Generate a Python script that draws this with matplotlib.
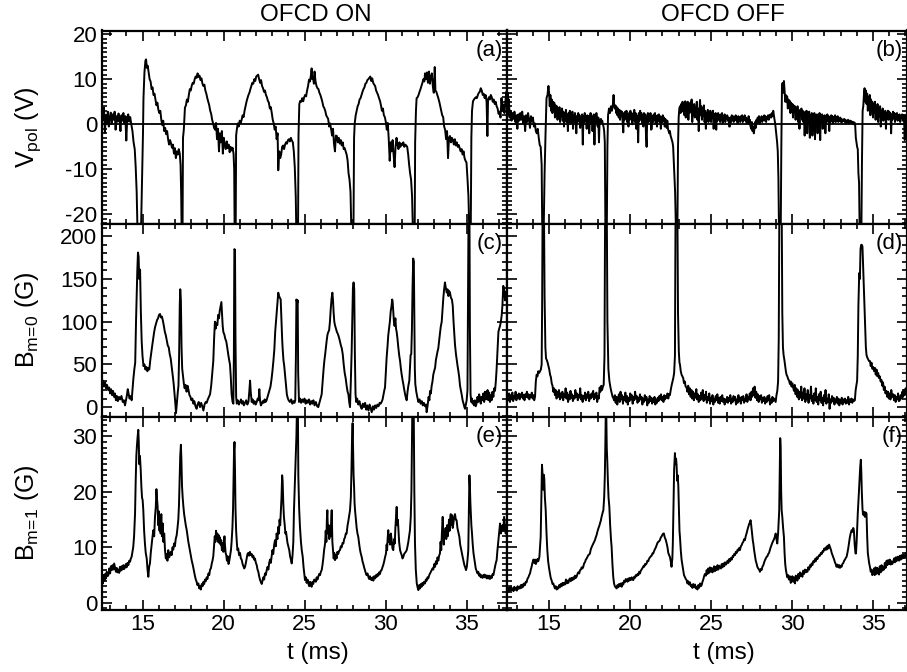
import matplotlib
matplotlib.use('Agg')
import matplotlib.pyplot as plt
from matplotlib.ticker import MultipleLocator

plt.rcParams['font.family'] = ['Liberation Sans', 'DejaVu Sans']
plt.rcParams['mathtext.fontset'] = 'custom'
plt.rcParams['mathtext.rm'] = 'Liberation Sans'
plt.rcParams['mathtext.it'] = 'Liberation Sans:italic'
plt.rcParams['axes.unicode_minus'] = False

# ---- data: (t [ms], value) samples ----
# (a) V_pol, OFCD on
vpol_on = [
    (12.50, 3.5), (12.56, 1.0), (12.62, 3.7), (12.68, -1.9), (12.74, 2.0), (12.80, 0.5), (12.86, 2.8),
    (12.92, -0.5), (12.98, 1.5), (13.04, 2.6), (13.10, 0.2), (13.16, 2.2), (13.22, 1.0), (13.28, 2.8),
    (13.34, -1.2), (13.40, 1.8), (13.46, 0.6), (13.52, 2.4), (13.58, 1.2), (13.64, -1.5), (13.70, 2.0),
    (13.76, 0.8), (13.82, 2.5), (13.88, 0.2), (13.94, 1.8), (14.00, -3.6), (14.06, 1.5), (14.12, 2.2),
    (14.18, 0.6), (14.24, 1.6), (14.30, 0.2), (14.38, -1.5), (14.45, -4.0), (14.52, -5.5), (14.58, -9.5),
    (14.64, -15.0), (14.70, -25), (14.90, -25), (14.97, -12.3), (15.03, -2.0), (15.06, 5.8), (15.12, 11.5),
    (15.18, 14.1), (15.22, 14.4), (15.27, 12.5), (15.32, 13.0), (15.38, 11.5), (15.44, 10.0), (15.50, 9.5),
    (15.56, 7.8), (15.62, 8.2), (15.68, 6.5), (15.74, 6.8), (15.80, 5.5), (15.86, 4.2), (15.92, 4.8),
    (15.98, 3.2), (16.04, 2.5), (16.10, 3.0), (16.16, 1.0), (16.22, -0.2), (16.28, 0.8), (16.34, -1.5),
    (16.40, -0.8), (16.46, -2.2), (16.52, -1.5), (16.58, -3.3), (16.64, -4.5), (16.70, -3.5), (16.76, -4.2),
    (16.82, -5.2), (16.88, -4.5), (16.94, -6.5), (17.00, -5.3), (17.06, -7.5), (17.12, -6.0), (17.18, -6.7),
    (17.24, -5.5), (17.30, -6.5), (17.35, -9.0), (17.39, -16.0), (17.42, -25), (17.47, -25), (17.50, -3.0),
    (17.55, -1.2), (17.62, 3.7), (17.68, 4.2), (17.74, 5.5), (17.80, 5.0), (17.86, 6.5), (17.92, 7.8),
    (17.98, 7.5), (18.04, 8.6), (18.10, 9.2), (18.16, 9.0), (18.22, 10.0), (18.28, 10.6), (18.34, 10.3),
    (18.40, 11.3), (18.46, 10.5), (18.52, 10.8), (18.58, 9.8), (18.64, 10.2), (18.70, 9.0), (18.76, 8.5),
    (18.82, 8.8), (18.88, 7.5), (18.94, 6.8), (19.00, 5.8), (19.06, 5.0), (19.12, 4.2), (19.18, 3.0),
    (19.24, 2.3), (19.30, 1.0), (19.36, 0.2), (19.42, -0.8), (19.48, -1.2), (19.54, 0.3), (19.60, -3.3),
    (19.66, -1.0), (19.72, -6.0), (19.78, -2.0), (19.84, -4.0), (19.90, -1.5), (19.96, -6.5), (20.02, -3.0),
    (20.08, -4.7), (20.14, -5.5), (20.20, -3.8), (20.26, -5.3), (20.32, -4.5), (20.38, -6.2), (20.44, -5.0),
    (20.50, -5.8), (20.56, -5.2), (20.62, -6.5), (20.66, -10.0), (20.69, -25), (20.75, -25), (20.78, -2.5),
    (20.82, -1.2), (20.88, 0.2), (20.94, -0.5), (21.00, 0.8), (21.06, 0.3), (21.12, 1.0), (21.18, 2.0),
    (21.24, 1.6), (21.30, 3.0), (21.36, 4.0), (21.42, 5.0), (21.48, 5.8), (21.54, 6.5), (21.60, 7.0),
    (21.66, 7.8), (21.72, 8.5), (21.78, 9.2), (21.84, 9.0), (21.90, 10.0), (21.96, 9.6), (22.02, 10.6),
    (22.08, 10.8), (22.14, 11.0), (22.20, 10.0), (22.26, 9.2), (22.32, 9.8), (22.38, 8.5), (22.44, 8.0),
    (22.50, 7.2), (22.56, 7.5), (22.62, 6.5), (22.68, 6.0), (22.74, 5.2), (22.80, 4.8), (22.86, 3.5),
    (22.92, 3.8), (22.98, 2.5), (23.04, 1.0), (23.10, 0.2), (23.16, -1.2), (23.22, -0.5), (23.28, -3.3),
    (23.34, -2.0), (23.38, -10.2), (23.44, -6.0), (23.50, -7.5), (23.56, -6.7), (23.62, -5.0), (23.68, -4.7),
    (23.74, -5.5), (23.80, -4.5), (23.86, -4.0), (23.92, -4.3), (23.98, -3.5), (24.04, -3.3), (24.10, -3.8),
    (24.16, -3.0), (24.22, -3.6), (24.28, -4.0), (24.34, -6.0), (24.40, -9.5), (24.46, -16.0), (24.50, -25),
    (24.60, -25), (24.63, -2.5), (24.68, 4.5), (24.74, 5.2), (24.80, 5.0), (24.86, 5.8), (24.92, 5.1),
    (24.98, 6.0), (25.04, 6.5), (25.10, 6.2), (25.16, 7.5), (25.22, 8.5), (25.28, 9.9), (25.34, 9.5),
    (25.40, 11.0), (25.44, 12.4), (25.48, 10.0), (25.52, 10.6), (25.58, 9.0), (25.62, 11.7), (25.68, 9.5),
    (25.74, 8.5), (25.80, 8.0), (25.86, 7.8), (25.92, 7.0), (25.98, 6.5), (26.04, 5.8), (26.10, 5.0),
    (26.16, 4.0), (26.22, 3.6), (26.28, 3.0), (26.34, 2.0), (26.40, 1.6), (26.46, 1.2), (26.52, -0.5),
    (26.58, 0.2), (26.64, -1.0), (26.70, -2.5), (26.76, -1.0), (26.82, -4.3), (26.88, -6.0), (26.94, -2.5),
    (27.00, -2.6), (27.06, -4.0), (27.12, -3.0), (27.18, -4.3), (27.24, -3.5), (27.30, -4.7), (27.36, -4.0),
    (27.42, -5.5), (27.48, -5.3), (27.54, -6.0), (27.60, -6.7), (27.66, -8.0), (27.72, -10.9), (27.78, -12.3),
    (27.84, -15.0), (27.90, -25), (28.02, -25), (28.06, -3.0), (28.10, 0.2), (28.16, 2.0), (28.22, 3.0),
    (28.28, 4.0), (28.34, 4.5), (28.40, 5.5), (28.46, 5.8), (28.52, 6.5), (28.58, 7.2), (28.64, 7.8),
    (28.70, 8.2), (28.76, 9.0), (28.82, 9.2), (28.88, 9.8), (28.94, 10.0), (29.00, 10.3), (29.06, 10.6),
    (29.12, 9.6), (29.18, 10.2), (29.24, 9.2), (29.30, 8.8), (29.36, 8.5), (29.42, 7.5), (29.48, 7.0),
    (29.54, 6.5), (29.60, 5.8), (29.66, 5.2), (29.72, 4.2), (29.78, 3.0), (29.84, 3.5), (29.90, 2.0),
    (29.96, 1.6), (30.02, 0.5), (30.08, -1.2), (30.14, 0.3), (30.20, -3.3), (30.26, -8.1), (30.32, -4.0),
    (30.38, -6.0), (30.44, -3.5), (30.50, -6.7), (30.56, -9.5), (30.62, -5.0), (30.68, -3.0), (30.74, -4.5),
    (30.80, -5.5), (30.86, -4.0), (30.92, -5.0), (30.98, -4.3), (31.04, -4.6), (31.10, -4.0), (31.16, -5.0),
    (31.22, -4.5), (31.28, -4.7), (31.34, -5.0), (31.40, -6.7), (31.46, -9.0), (31.52, -10.9), (31.58, -12.3),
    (31.64, -16.0), (31.70, -25), (31.80, -25), (31.83, -4.0), (31.88, 3.0), (31.92, 5.8), (31.98, 6.0),
    (32.04, 6.5), (32.10, 7.2), (32.16, 7.8), (32.22, 8.5), (32.28, 9.2), (32.34, 10.0), (32.40, 9.5),
    (32.44, 11.3), (32.50, 10.0), (32.56, 11.5), (32.62, 9.2), (32.68, 11.7), (32.74, 9.0), (32.80, 10.5),
    (32.86, 11.3), (32.92, 8.5), (32.98, 7.0), (33.04, 12.7), (33.08, 7.5), (33.14, 7.2), (33.20, 6.5),
    (33.26, 5.8), (33.32, 5.0), (33.38, 4.0), (33.44, 3.0), (33.50, 2.0), (33.56, 1.6), (33.62, -0.5),
    (33.68, -1.2), (33.74, -3.3), (33.80, -1.5), (33.86, -7.5), (33.92, -3.0), (33.98, -2.6), (34.04, -4.0),
    (34.10, -3.0), (34.16, -3.5), (34.22, -4.5), (34.28, -3.3), (34.34, -4.7), (34.40, -4.0), (34.46, -5.0),
    (34.52, -4.6), (34.58, -5.3), (34.64, -6.0), (34.70, -5.5), (34.76, -6.7), (34.82, -6.0), (34.88, -7.5),
    (34.94, -8.1), (35.00, -8.5), (35.06, -12.0), (35.12, -16.0), (35.18, -25), (35.26, -25), (35.30, -3.0),
    (35.34, 3.0), (35.40, 5.1), (35.46, 5.5), (35.52, 5.8), (35.58, 6.0), (35.64, 5.8), (35.70, 6.5),
    (35.76, 7.0), (35.82, 7.2), (35.88, 8.0), (35.94, 7.5), (36.00, 6.5), (36.06, 6.8), (36.12, 5.8),
    (36.18, 6.5), (36.24, 5.0), (36.29, -2.6), (36.33, 5.5), (36.38, 6.0), (36.44, 5.5), (36.50, 6.5),
    (36.56, 6.0), (36.62, 5.0), (36.68, 5.5), (36.74, 4.5), (36.80, 5.0), (36.86, 4.0), (36.92, 3.5),
    (36.98, 2.3), (37.04, 2.8), (37.10, 1.5), (37.16, 5.8), (37.22, 3.0), (37.28, 4.4), (37.34, 2.5),
    (37.40, 5.0), (37.46, 7.2), (37.50, 5.0),
]

# (b) V_pol, OFCD off
vpol_off = [
    (12.40, 4.0), (12.44, 7.0), (12.48, 2.0), (12.52, 5.5), (12.56, 1.5), (12.62, 3.0), (12.68, 0.8),
    (12.74, 2.5), (12.80, 1.2), (12.86, 2.8), (12.92, 0.5), (12.98, 2.0), (13.04, -1.0), (13.10, 2.2),
    (13.16, 0.8), (13.22, 2.5), (13.28, 1.0), (13.34, 2.8), (13.40, 0.2), (13.46, 1.8), (13.52, -1.5),
    (13.58, 2.0), (13.64, 0.5), (13.70, 2.5), (13.76, 1.0), (13.82, -0.8), (13.88, 1.8), (13.94, 0.6),
    (14.00, 1.5), (14.06, -0.5), (14.12, 0.2), (14.18, -1.5), (14.24, -2.0), (14.30, -1.0), (14.36, -3.0),
    (14.42, -4.6), (14.48, -5.0), (14.54, -9.0), (14.58, -25), (14.66, -25), (14.72, -11.0), (14.78, -2.0),
    (14.84, 5.8), (14.90, 6.5), (14.96, 8.5), (15.00, 7.0), (15.04, 4.0), (15.08, 6.5), (15.12, 3.0),
    (15.16, 5.5), (15.20, 2.5), (15.24, 5.0), (15.28, 3.5), (15.32, 4.8), (15.36, 1.5), (15.40, 4.2),
    (15.44, 2.0), (15.48, 4.0), (15.52, 1.0), (15.56, 3.5), (15.60, 2.0), (15.64, 3.8), (15.68, 0.5),
    (15.72, 3.0), (15.76, 1.8), (15.80, 3.5), (15.84, 0.8), (15.88, 2.8), (15.92, -0.5), (15.96, 2.5),
    (16.00, 1.5), (16.04, 3.2), (16.08, 0.5), (16.12, 2.0), (16.16, -1.5), (16.20, 2.5), (16.24, 1.0),
    (16.28, 3.0), (16.32, 0.2), (16.36, 2.2), (16.40, 1.0), (16.44, 2.8), (16.48, -1.0), (16.52, 2.0),
    (16.56, 0.5), (16.60, 2.5), (16.64, 1.2), (16.68, -2.0), (16.72, 1.8), (16.76, 0.5), (16.80, 2.5),
    (16.84, 1.0), (16.88, 2.0), (16.92, -0.8), (16.96, 1.5), (17.00, 0.3), (17.04, 2.2), (17.08, -4.5),
    (17.12, 1.8), (17.16, 0.5), (17.20, 2.5), (17.24, 0.8), (17.28, 1.5), (17.32, -1.0), (17.36, 2.0),
    (17.40, 0.5), (17.44, 1.8), (17.48, -2.0), (17.52, 1.2), (17.56, 2.5), (17.60, 0.4), (17.64, 1.8),
    (17.68, -1.5), (17.72, 1.0), (17.76, 2.2), (17.80, -4.5), (17.84, 1.5), (17.88, 0.5), (17.92, 2.5),
    (17.96, 1.0), (18.00, -0.5), (18.04, 1.5), (18.08, -4.0), (18.12, 1.0), (18.16, 0.2), (18.20, 1.2),
    (18.24, 0.5), (18.28, 0.8), (18.32, 0.0), (18.36, -0.5), (18.40, -1.5), (18.44, -4.0), (18.48, -25),
    (18.56, -25), (18.60, -5.0), (18.64, 2.0), (18.70, 3.5), (18.76, 2.5), (18.82, 4.0), (18.88, 3.0),
    (18.94, 4.5), (18.98, 6.5), (19.02, 4.0), (19.06, 3.5), (19.10, 4.2), (19.14, 2.5), (19.18, 3.8),
    (19.22, 2.0), (19.26, 3.5), (19.30, 1.5), (19.34, 3.2), (19.38, 1.0), (19.42, 3.0), (19.46, 2.0),
    (19.50, 2.8), (19.54, 0.5), (19.58, -1.8), (19.62, 2.5), (19.66, 1.0), (19.70, 2.8), (19.74, 1.5),
    (19.78, 3.0), (19.82, 0.5), (19.86, 2.2), (19.90, -0.5), (19.94, 2.5), (19.98, 1.0), (20.02, 3.0),
    (20.06, 1.5), (20.10, 2.5), (20.14, 0.0), (20.18, 2.0), (20.22, 1.0), (20.26, 3.2), (20.30, 0.5),
    (20.34, 2.5), (20.38, -1.0), (20.42, 2.0), (20.46, 1.0), (20.50, -4.0), (20.54, 2.5), (20.58, 0.8),
    (20.62, 3.0), (20.66, 1.5), (20.70, 2.5), (20.74, 0.2), (20.78, 2.0), (20.82, -0.5), (20.86, 2.5),
    (20.90, 1.0), (20.94, 2.2), (20.98, -2.0), (21.02, -5.0), (21.06, 1.5), (21.10, 2.5), (21.14, 0.5),
    (21.18, 2.0), (21.22, 1.0), (21.26, 2.5), (21.30, -1.2), (21.34, -1.0), (21.38, 1.8), (21.42, 0.5),
    (21.46, 2.2), (21.50, 1.0), (21.54, 2.5), (21.58, 0.2), (21.62, 1.8), (21.66, -0.5), (21.70, 2.0),
    (21.74, 1.0), (21.78, 2.2), (21.82, 0.5), (21.86, 1.8), (21.90, -1.0), (21.94, 1.5), (21.98, 0.5),
    (22.02, 2.0), (22.06, 0.8), (22.10, 1.5), (22.14, -0.5), (22.18, 1.2), (22.22, 0.5), (22.26, -0.8),
    (22.30, 0.8), (22.34, -1.0), (22.38, -1.5), (22.42, -2.0), (22.46, -1.5), (22.50, -2.5), (22.54, -3.0),
    (22.58, -3.5), (22.62, -4.0), (22.66, -5.0), (22.72, -10.0), (22.78, -15.0), (22.84, -25), (22.92, -25),
    (22.96, -5.0), (23.00, 1.5), (23.04, 3.5), (23.08, 4.0), (23.12, 2.5), (23.16, 4.5), (23.20, 3.0),
    (23.24, 5.0), (23.28, 2.8), (23.32, 4.5), (23.36, 2.0), (23.40, 5.1), (23.44, 1.5), (23.48, 4.8),
    (23.52, 3.0), (23.56, 5.0), (23.60, 1.0), (23.64, 4.5), (23.68, 2.5), (23.72, 4.8), (23.76, 3.0),
    (23.80, 5.5), (23.84, 0.5), (23.88, 4.0), (23.92, 2.0), (23.96, 4.5), (24.00, 1.5), (24.04, 3.8),
    (24.08, 2.8), (24.12, 5.0), (24.16, 1.0), (24.20, 3.5), (24.24, -1.5), (24.28, 3.0), (24.32, 5.4),
    (24.36, 2.0), (24.40, 4.0), (24.44, 1.0), (24.48, 3.5), (24.52, 2.0), (24.56, 4.2), (24.60, 0.5),
    (24.64, 3.0), (24.68, -1.0), (24.72, 2.5), (24.76, 1.5), (24.80, 3.2), (24.84, 0.5), (24.88, 2.8),
    (24.92, 1.0), (24.96, 3.0), (25.00, 0.5), (25.04, 2.5), (25.08, 1.5), (25.12, 3.0), (25.16, -1.0),
    (25.20, 2.2), (25.24, 1.0), (25.28, 2.5), (25.32, -1.2), (25.36, 2.0), (25.40, 0.8), (25.44, 2.5),
    (25.48, 1.2), (25.52, 2.0), (25.56, 0.5), (25.60, 2.2), (25.64, 1.0), (25.68, 2.5), (25.72, 0.2),
    (25.76, 1.8), (25.80, 1.0), (25.84, 2.2), (25.88, 0.5), (25.92, 1.8), (25.96, 1.2), (26.00, 2.0),
    (26.04, 0.8), (26.08, 1.5), (26.12, -0.5), (26.16, -0.5), (26.20, 1.5), (26.24, 0.5), (26.28, 2.0),
    (26.32, 1.0), (26.36, 1.8), (26.40, 0.5), (26.44, 1.5), (26.48, 1.0), (26.52, 2.0), (26.56, 0.8),
    (26.60, 1.5), (26.64, 0.2), (26.68, 1.8), (26.72, 0.8), (26.76, 1.5), (26.80, 0.5), (26.84, 1.8),
    (26.88, 1.0), (26.92, 2.0), (26.96, 0.5), (27.00, 1.5), (27.04, 1.0), (27.08, 2.0), (27.12, 0.8),
    (27.16, 1.5), (27.20, 0.2), (27.24, 1.2), (27.28, 0.5), (27.32, 1.8), (27.36, 0.0), (27.40, 1.0),
    (27.44, -0.5), (27.48, -1.0), (27.52, 0.5), (27.56, -1.5), (27.60, -0.5), (27.64, -2.0), (27.68, -1.0),
    (27.72, 0.5), (27.76, -0.8), (27.80, 1.0), (27.84, 0.2), (27.88, 1.5), (27.92, 0.5), (27.96, 1.8),
    (28.00, 0.2), (28.04, 1.2), (28.08, 0.8), (28.12, 1.8), (28.16, 0.5), (28.20, 1.5), (28.24, 1.0),
    (28.28, 2.0), (28.32, 0.8), (28.36, 1.8), (28.40, 0.5), (28.44, 1.5), (28.48, 1.2), (28.52, 2.0),
    (28.56, 1.0), (28.60, 2.0), (28.64, 1.5), (28.68, 2.2), (28.72, 1.5), (28.76, 2.5), (28.80, 1.8),
    (28.84, 3.0), (28.88, 2.0), (28.92, 1.0), (28.96, 0.2), (29.00, -1.2), (29.04, -2.5), (29.08, -4.0),
    (29.12, -6.0), (29.16, -12.0), (29.20, -25), (29.30, -25), (29.34, -5.0), (29.38, 8.5), (29.42, 9.2),
    (29.46, 7.0), (29.50, 9.6), (29.54, 7.5), (29.58, 5.0), (29.62, 6.5), (29.66, 5.0), (29.70, 6.2),
    (29.74, 3.5), (29.78, 5.5), (29.82, 4.0), (29.86, 5.2), (29.90, 2.5), (29.94, 4.8), (29.98, 3.5),
    (30.02, 4.5), (30.06, 1.5), (30.10, 4.2), (30.14, 2.8), (30.18, 4.0), (30.22, 1.0), (30.26, 3.5),
    (30.30, 2.5), (30.34, 4.0), (30.38, 0.5), (30.42, 3.2), (30.46, -1.0), (30.50, 3.0), (30.54, 2.0),
    (30.58, 3.5), (30.62, 1.0), (30.66, 3.0), (30.70, 0.5), (30.74, 2.5), (30.78, -2.5), (30.82, 2.8),
    (30.86, 1.5), (30.90, 3.0), (30.94, -2.0), (30.98, 2.2), (31.02, 1.0), (31.06, 2.8), (31.10, -3.0),
    (31.14, 2.0), (31.18, 0.5), (31.22, 2.5), (31.26, -2.5), (31.30, 1.8), (31.34, 1.0), (31.38, 2.5),
    (31.42, -3.3), (31.46, 2.0), (31.50, 0.5), (31.54, 2.2), (31.58, -2.0), (31.62, 1.5), (31.66, 0.5),
    (31.70, 2.5), (31.74, -3.5), (31.78, 2.0), (31.82, 1.0), (31.86, 2.2), (31.90, -1.0), (31.94, 1.8),
    (31.98, 0.8), (32.02, 2.0), (32.06, -2.0), (32.10, 1.5), (32.14, 0.5), (32.18, 2.2), (32.22, 1.0),
    (32.26, 1.8), (32.30, -1.5), (32.34, 1.5), (32.38, 0.5), (32.42, 2.0), (32.46, 1.0), (32.50, 1.8),
    (32.54, 0.2), (32.58, 1.5), (32.62, 0.8), (32.66, 2.0), (32.70, 0.5), (32.74, 1.5), (32.78, 1.0),
    (32.82, 1.8), (32.86, 0.5), (32.90, 1.2), (32.94, 0.8), (32.98, 1.5), (33.02, 0.5), (33.06, 1.2),
    (33.10, 0.5), (33.14, 1.0), (33.18, 0.8), (33.22, 1.2), (33.26, 0.5), (33.30, 1.0), (33.34, 0.2),
    (33.38, 0.8), (33.42, 0.5), (33.46, 1.0), (33.50, 0.2), (33.54, 0.8), (33.58, 0.5), (33.62, 0.8),
    (33.66, 0.3), (33.70, 0.6), (33.74, 0.2), (33.78, 0.5), (33.82, 0.0), (33.86, 0.4), (33.90, -0.2),
    (33.94, -3.0), (33.98, -4.0), (34.02, -5.0), (34.06, -5.5), (34.10, -10.9), (34.14, -13.0), (34.18, -25),
    (34.28, -25), (34.32, -8.0), (34.36, 3.0), (34.40, 4.0), (34.44, 6.5), (34.48, 8.0), (34.52, 5.0),
    (34.56, 7.5), (34.60, 4.5), (34.64, 6.8), (34.68, 3.0), (34.72, 6.0), (34.76, 4.0), (34.80, 6.5),
    (34.84, 2.0), (34.88, 5.5), (34.92, 3.0), (34.96, 5.0), (35.00, 1.5), (35.04, 4.5), (35.08, 2.5),
    (35.12, 5.0), (35.16, 1.0), (35.20, 3.8), (35.24, 2.0), (35.28, 4.5), (35.32, 0.5), (35.36, 3.5),
    (35.40, 1.8), (35.44, 4.0), (35.48, -0.5), (35.52, 3.0), (35.56, 1.5), (35.60, 3.5), (35.64, 0.8),
    (35.68, 2.5), (35.72, 1.5), (35.76, 3.0), (35.80, -1.0), (35.84, 2.5), (35.88, 1.2), (35.92, 3.0),
    (35.96, 1.0), (36.00, 2.8), (36.04, 1.5), (36.08, 2.5), (36.12, -2.0), (36.16, 2.0), (36.20, 1.0),
    (36.24, 2.8), (36.28, 1.5), (36.32, 2.5), (36.36, 0.5), (36.40, 2.2), (36.44, 1.2), (36.48, 2.5),
    (36.52, 0.8), (36.56, 2.0), (36.60, 1.0), (36.64, 2.2), (36.68, 0.5), (36.72, 1.8), (36.76, 1.5),
    (36.80, 2.2), (36.84, 0.8), (36.88, 2.0), (36.92, 1.0), (36.96, -3.5), (37.00, 2.0), (37.04, 1.5),
    (37.10, 2.2),
]

# (c) B_m=0, OFCD on
bm0_on = [
    (12.50, 27), (12.56, 31), (12.62, 24), (12.69, 29), (12.75, 22), (12.81, 26), (12.88, 20), (12.94, 23),
    (13.00, 16), (13.06, 21), (13.12, 14), (13.18, 19), (13.24, 12), (13.30, 16), (13.36, 8), (13.42, 13),
    (13.48, 7), (13.55, 12), (13.62, 9), (13.70, 13), (13.78, 6), (13.85, 8), (13.92, 2), (13.98, 8),
    (14.04, 14), (14.09, 21), (14.14, 16), (14.20, 10), (14.27, 13), (14.33, 8), (14.39, 22), (14.44, 34),
    (14.50, 45), (14.55, 52), (14.60, 100), (14.64, 130), (14.68, 160), (14.72, 181), (14.76, 176),
    (14.80, 150), (14.85, 161), (14.90, 110), (14.95, 77), (15.00, 60), (15.06, 48), (15.12, 50),
    (15.18, 44), (15.24, 47), (15.30, 42), (15.36, 46), (15.42, 44), (15.48, 55), (15.54, 64), (15.60, 72),
    (15.66, 80), (15.72, 88), (15.78, 94), (15.84, 98), (15.90, 102), (15.96, 104), (16.02, 108),
    (16.08, 109), (16.14, 105), (16.20, 106), (16.26, 101), (16.32, 95), (16.38, 88), (16.44, 84),
    (16.50, 78), (16.56, 72), (16.62, 70), (16.68, 62), (16.74, 57), (16.80, 48), (16.86, 38), (16.92, 28),
    (16.98, 15), (17.02, 6), (17.07, -7), (17.12, 5), (17.18, 18), (17.22, 25), (17.26, 60), (17.30, 120),
    (17.33, 138), (17.37, 125), (17.41, 70), (17.45, 45), (17.50, 36), (17.55, 28), (17.60, 22), (17.66, 26),
    (17.72, 18), (17.78, 25), (17.84, 20), (17.90, 14), (17.96, 12), (18.02, 8), (18.08, 10), (18.14, 4),
    (18.20, 7), (18.27, 1), (18.34, -2), (18.40, 3), (18.47, 6), (18.55, 0), (18.62, 5), (18.69, 1),
    (18.76, -4), (18.83, 3), (18.90, 6), (18.96, 5), (19.03, 9), (19.10, 12), (19.17, 15), (19.24, 25),
    (19.31, 40), (19.37, 54), (19.42, 80), (19.47, 100), (19.52, 92), (19.57, 98), (19.62, 96),
    (19.67, 108), (19.72, 104), (19.77, 113), (19.82, 118), (19.87, 123), (19.91, 110), (19.95, 95),
    (19.99, 88), (20.05, 85), (20.11, 80), (20.17, 77), (20.23, 70), (20.29, 62), (20.35, 55), (20.40, 50),
    (20.45, 35), (20.50, 15), (20.56, 6), (20.61, 4), (20.64, 60), (20.67, 185), (20.71, 184), (20.74, 80),
    (20.78, 12), (20.82, 4), (20.88, 8), (20.95, 3), (21.02, 6), (21.08, 9), (21.14, 4), (21.20, 7),
    (21.26, 2), (21.33, 5), (21.40, 8), (21.47, 3), (21.54, 6), (21.60, 20), (21.64, 31), (21.68, 18),
    (21.74, 6), (21.80, 9), (21.86, 4), (21.92, 7), (21.98, 3), (22.05, 6), (22.11, 10), (22.17, 8),
    (22.21, 21), (22.26, 7), (22.31, 2), (22.36, 4), (22.42, 7), (22.48, 5), (22.54, 9), (22.60, 6),
    (22.66, 8), (22.72, 12), (22.78, 16), (22.84, 20), (22.90, 24), (22.96, 32), (23.02, 42), (23.08, 54),
    (23.14, 68), (23.19, 88), (23.24, 100), (23.29, 112), (23.34, 125), (23.38, 134), (23.43, 130),
    (23.48, 128), (23.53, 126), (23.58, 100), (23.62, 80), (23.65, 69), (23.70, 55), (23.75, 48),
    (23.80, 38), (23.86, 25), (23.91, 15), (23.96, 11), (24.02, 8), (24.10, 6), (24.18, 9), (24.25, 4),
    (24.32, 7), (24.38, 5), (24.43, 8), (24.47, 60), (24.50, 126), (24.55, 122), (24.58, 125), (24.61, 40),
    (24.66, 6), (24.72, 10), (24.79, 5), (24.86, 9), (24.93, 6), (25.00, 10), (25.07, 4), (25.14, 8),
    (25.21, 5), (25.28, 9), (25.35, 3), (25.42, 7), (25.49, 4), (25.55, 8), (25.62, 2), (25.70, 6),
    (25.78, 1), (25.85, 0), (25.92, 5), (25.99, 10), (26.06, 15), (26.12, 30), (26.18, 45), (26.23, 55),
    (26.27, 61), (26.32, 70), (26.37, 78), (26.42, 85), (26.47, 88), (26.52, 90), (26.57, 100),
    (26.62, 115), (26.67, 127), (26.72, 134), (26.76, 125), (26.80, 110), (26.84, 100), (26.88, 96),
    (26.94, 92), (27.00, 88), (27.05, 86), (27.09, 84), (27.15, 80), (27.20, 76), (27.25, 72), (27.30, 69),
    (27.36, 62), (27.42, 50), (27.48, 40), (27.54, 34), (27.60, 25), (27.66, 18), (27.71, 15), (27.76, 6),
    (27.81, 0), (27.86, 30), (27.91, 65), (27.95, 100), (27.99, 140), (28.03, 146), (28.07, 138),
    (28.11, 60), (28.15, 15), (28.19, 6), (28.25, 10), (28.32, 3), (28.39, 7), (28.46, 1), (28.53, -2),
    (28.60, 4), (28.67, 0), (28.74, 5), (28.81, -3), (28.88, 2), (28.95, -4), (29.02, 3), (29.09, -2),
    (29.15, -6), (29.22, 1), (29.29, -3), (29.36, 2), (29.43, -1), (29.50, 3), (29.57, 1), (29.64, 5),
    (29.70, 4), (29.76, 6), (29.82, 9), (29.88, 15), (29.93, 20), (29.97, 23), (30.02, 40), (30.07, 58),
    (30.12, 70), (30.17, 84), (30.22, 92), (30.27, 100), (30.32, 112), (30.37, 118), (30.41, 126),
    (30.44, 124), (30.48, 112), (30.52, 100), (30.56, 95), (30.61, 104), (30.65, 92), (30.69, 88),
    (30.74, 80), (30.79, 70), (30.85, 60), (30.90, 54), (30.95, 45), (31.00, 38), (31.05, 32), (31.10, 27),
    (31.16, 20), (31.22, 14), (31.27, 10), (31.31, 8), (31.36, 18), (31.41, 25), (31.47, 31), (31.51, 45),
    (31.55, 61), (31.59, 62), (31.63, 90), (31.67, 140), (31.71, 174), (31.75, 170), (31.78, 100),
    (31.81, 45), (31.84, 27), (31.90, 18), (31.96, 12), (32.03, 6), (32.10, 9), (32.17, 4), (32.24, 7),
    (32.30, 2), (32.37, 5), (32.44, 1), (32.50, 3), (32.54, -6), (32.60, 2), (32.66, 12), (32.71, 8),
    (32.75, 19), (32.80, 16), (32.85, 25), (32.90, 30), (32.95, 38), (33.00, 42), (33.06, 46), (33.11, 55),
    (33.16, 60), (33.21, 65), (33.26, 69), (33.31, 78), (33.36, 86), (33.41, 94), (33.47, 100),
    (33.52, 115), (33.57, 128), (33.62, 138), (33.67, 146), (33.72, 140), (33.78, 134), (33.83, 138),
    (33.88, 130), (33.93, 136), (33.98, 134), (34.04, 128), (34.10, 126), (34.15, 119), (34.20, 100),
    (34.25, 85), (34.29, 73), (34.35, 62), (34.40, 55), (34.45, 48), (34.50, 42), (34.55, 35), (34.60, 25),
    (34.65, 20), (34.70, 15), (34.76, 8), (34.82, 4), (34.87, 0), (34.91, -2), (34.96, 3), (35.01, 8),
    (35.06, 20), (35.10, 150), (35.13, 240), (35.18, 240), (35.21, 90), (35.25, 15), (35.29, 6),
    (35.34, 10), (35.38, 4), (35.42, 7), (35.47, 2), (35.52, 8), (35.57, 1), (35.63, 5), (35.68, 12),
    (35.73, 6), (35.78, 15), (35.83, 11), (35.88, 4), (35.93, 12), (35.98, 8), (36.04, 16), (36.09, 6),
    (36.14, 18), (36.20, 9), (36.25, 15), (36.30, 20), (36.35, 8), (36.40, 17), (36.45, 6), (36.50, 14),
    (36.55, 8), (36.60, 18), (36.66, 12), (36.71, 22), (36.76, 19), (36.81, 30), (36.86, 45), (36.91, 65),
    (36.97, 88), (37.02, 92), (37.07, 95), (37.12, 100), (37.17, 107), (37.22, 120), (37.27, 142),
    (37.32, 138), (37.38, 125), (37.43, 135), (37.48, 130),
]

# (d) B_m=0, OFCD off
bm0_off = [
    (12.40, 5), (12.44, 15), (12.48, 8), (12.53, 16), (12.58, 6), (12.63, 14), (12.68, 9), (12.73, 17),
    (12.78, 7), (12.83, 13), (12.88, 10), (12.93, 18), (12.98, 8), (13.03, 14), (13.08, 11), (13.13, 16),
    (13.18, 9), (13.23, 15), (13.28, 12), (13.33, 17), (13.38, 10), (13.43, 14), (13.48, 8), (13.53, 15),
    (13.58, 12), (13.63, 18), (13.68, 11), (13.73, 15), (13.78, 9), (13.83, 14), (13.88, 12), (13.93, 17),
    (13.98, 10), (14.03, 14), (14.08, 8), (14.13, 12), (14.18, 30), (14.23, 38), (14.28, 36), (14.33, 42),
    (14.38, 40), (14.44, 42), (14.49, 44), (14.54, 50), (14.57, 120), (14.60, 240), (14.68, 240),
    (14.72, 130), (14.77, 70), (14.81, 57), (14.86, 55), (14.91, 52), (14.96, 48), (15.01, 44), (15.06, 38),
    (15.11, 35), (15.16, 28), (15.21, 25), (15.26, 18), (15.31, 22), (15.36, 14), (15.41, 20), (15.46, 10),
    (15.51, 18), (15.56, 12), (15.61, 20), (15.67, 9), (15.72, 16), (15.77, 11), (15.82, 18), (15.87, 8),
    (15.92, 15), (15.97, 12), (16.02, 22), (16.07, 10), (16.12, 17), (16.17, 6), (16.22, 14), (16.27, 9),
    (16.32, 19), (16.37, 11), (16.42, 15), (16.47, 7), (16.52, 13), (16.57, 10), (16.62, 20), (16.67, 12),
    (16.72, 16), (16.77, 8), (16.82, 14), (16.87, 11), (16.92, 22), (16.97, 9), (17.02, 14), (17.07, 6),
    (17.12, 13), (17.17, 10), (17.22, 17), (17.27, 8), (17.32, 15), (17.37, 11), (17.42, 18), (17.47, 7),
    (17.52, 14), (17.57, 10), (17.62, 16), (17.67, 12), (17.72, 19), (17.77, 9), (17.82, 15), (17.87, 11),
    (17.92, 17), (17.97, 6), (18.02, 13), (18.07, 10), (18.12, 23), (18.17, 18), (18.22, 25), (18.27, 20),
    (18.32, 24), (18.37, 26), (18.42, 60), (18.46, 240), (18.56, 240), (18.60, 100), (18.66, 45),
    (18.72, 31), (18.77, 25), (18.82, 20), (18.87, 16), (18.92, 12), (18.96, 11), (19.01, 8), (19.06, 14),
    (19.11, 5), (19.16, 12), (19.21, 3), (19.26, 10), (19.31, 15), (19.36, 6), (19.41, 18), (19.46, 9),
    (19.51, 14), (19.56, 4), (19.61, 12), (19.66, 8), (19.71, 17), (19.76, 6), (19.81, 13), (19.86, 3),
    (19.91, 11), (19.96, 7), (20.01, 16), (20.06, 9), (20.11, 14), (20.16, 4), (20.21, 12), (20.26, 8),
    (20.31, 18), (20.36, 10), (20.41, 13), (20.46, 5), (20.51, 11), (20.56, 7), (20.61, 15), (20.66, 9),
    (20.71, 12), (20.76, 3), (20.81, 10), (20.86, 6), (20.91, 14), (20.96, 8), (21.01, 12), (21.06, 2),
    (21.11, 9), (21.16, 5), (21.21, 13), (21.26, 7), (21.31, 11), (21.36, 4), (21.41, 10), (21.46, 6),
    (21.51, 12), (21.56, 3), (21.61, 9), (21.66, 5), (21.71, 11), (21.76, 7), (21.81, 13), (21.86, 9),
    (21.91, 15), (21.96, 8), (22.01, 12), (22.06, 6), (22.11, 14), (22.16, 9), (22.21, 13), (22.26, 11),
    (22.31, 16), (22.36, 10), (22.41, 15), (22.46, 14), (22.51, 20), (22.57, 26), (22.62, 30), (22.67, 34),
    (22.72, 40), (22.77, 60), (22.81, 240), (22.92, 240), (22.96, 110), (23.01, 65), (23.05, 52),
    (23.08, 50), (23.13, 42), (23.18, 38), (23.23, 36), (23.28, 34), (23.33, 28), (23.38, 30), (23.43, 24),
    (23.49, 23), (23.54, 18), (23.59, 25), (23.64, 15), (23.69, 22), (23.74, 12), (23.79, 20), (23.84, 10),
    (23.89, 18), (23.94, 8), (23.99, 16), (24.04, 11), (24.09, 21), (24.14, 9), (24.19, 15), (24.24, 6),
    (24.29, 13), (24.34, 8), (24.39, 17), (24.44, 10), (24.49, 20), (24.54, 7), (24.59, 14), (24.64, 9),
    (24.69, 18), (24.74, 5), (24.79, 12), (24.84, 8), (24.89, 16), (24.94, 4), (24.99, 11), (25.04, 7),
    (25.09, 14), (25.14, 3), (25.19, 10), (25.24, 6), (25.29, 13), (25.34, 8), (25.39, 15), (25.44, 5),
    (25.49, 11), (25.54, 4), (25.59, 12), (25.64, 7), (25.69, 14), (25.74, 6), (25.79, 10), (25.84, 3),
    (25.89, 9), (25.94, 6), (25.99, 12), (26.04, 5), (26.09, 11), (26.14, 7), (26.19, 14), (26.24, 4),
    (26.29, 10), (26.34, 6), (26.39, 13), (26.44, 8), (26.49, 12), (26.54, 3), (26.59, 9), (26.64, 5),
    (26.69, 14), (26.74, 7), (26.79, 11), (26.84, 4), (26.89, 12), (26.94, 8), (26.99, 13), (27.04, 5),
    (27.09, 10), (27.14, 7), (27.19, 15), (27.24, 6), (27.29, 12), (27.34, 9), (27.39, 16), (27.44, 8),
    (27.49, 18), (27.54, 12), (27.59, 22), (27.64, 14), (27.69, 24), (27.74, 11), (27.79, 18), (27.84, 8),
    (27.89, 15), (27.94, 6), (27.99, 13), (28.04, 9), (28.09, 14), (28.14, 5), (28.19, 11), (28.24, 7),
    (28.29, 12), (28.34, 4), (28.39, 10), (28.44, 6), (28.49, 13), (28.54, 8), (28.59, 14), (28.64, 3),
    (28.69, 9), (28.74, 5), (28.79, 12), (28.84, 7), (28.89, 10), (28.94, 8), (28.99, 6), (29.04, 14),
    (29.09, 19), (29.14, 30), (29.18, 80), (29.22, 240), (29.36, 240), (29.40, 110), (29.44, 70),
    (29.48, 61), (29.53, 55), (29.58, 48), (29.62, 42), (29.66, 38), (29.71, 36), (29.76, 33), (29.82, 31),
    (29.87, 27), (29.92, 30), (29.97, 24), (30.02, 28), (30.07, 23), (30.12, 19), (30.17, 26), (30.22, 15),
    (30.27, 22), (30.32, 12), (30.37, 20), (30.42, 9), (30.47, 18), (30.52, 11), (30.57, 24), (30.62, 8),
    (30.67, 17), (30.72, 10), (30.77, 22), (30.82, 6), (30.87, 15), (30.92, 9), (30.97, 20), (31.02, 5),
    (31.07, 14), (31.12, 10), (31.17, 24), (31.22, 7), (31.27, 13), (31.32, 4), (31.37, 16), (31.42, 8),
    (31.47, 22), (31.52, 6), (31.57, 12), (31.62, 3), (31.67, 15), (31.72, 8), (31.77, 18), (31.82, 5),
    (31.87, 11), (31.92, 2), (31.97, 14), (32.02, 7), (32.07, 20), (32.12, 4), (32.17, 10), (32.22, 6),
    (32.27, 15), (32.32, -2), (32.37, 9), (32.42, 5), (32.47, 13), (32.52, 7), (32.57, 11), (32.62, 3),
    (32.67, 9), (32.72, 6), (32.77, 12), (32.82, 4), (32.87, 10), (32.92, 2), (32.97, 8), (33.02, 5),
    (33.07, 11), (33.12, 3), (33.17, 9), (33.22, 6), (33.27, 10), (33.32, 4), (33.37, 8), (33.42, 5),
    (33.47, 12), (33.52, 3), (33.57, 9), (33.62, 6), (33.67, 10), (33.72, 5), (33.77, 9), (33.82, 7),
    (33.88, 8), (33.93, 20), (33.98, 26), (34.02, 31), (34.06, 60), (34.10, 120), (34.15, 157),
    (34.19, 150), (34.23, 185), (34.27, 190), (34.31, 190), (34.35, 188), (34.39, 165), (34.44, 138),
    (34.48, 110), (34.52, 88), (34.56, 70), (34.60, 61), (34.65, 58), (34.70, 56), (34.75, 54), (34.81, 54),
    (34.86, 48), (34.91, 52), (34.96, 45), (35.01, 47), (35.07, 42), (35.12, 46), (35.17, 38), (35.22, 44),
    (35.27, 36), (35.32, 40), (35.37, 34), (35.42, 36), (35.47, 30), (35.52, 32), (35.57, 25), (35.62, 29),
    (35.67, 20), (35.72, 24), (35.77, 16), (35.83, 19), (35.88, 12), (35.93, 18), (35.98, 10), (36.03, 16),
    (36.08, 9), (36.13, 20), (36.18, 12), (36.25, 15), (36.30, 8), (36.35, 14), (36.40, 6), (36.45, 12),
    (36.50, 9), (36.55, 16), (36.60, 7), (36.66, 8), (36.71, 14), (36.76, 10), (36.81, 18), (36.86, 12),
    (36.91, 20), (36.96, 14), (37.01, 22), (37.07, 19), (37.10, 15),
]

# (e) B_m=1, OFCD on
bm1_on = [
    (12.50, 4.5), (12.55, 3.5), (12.60, 5.0), (12.65, 4.0), (12.69, 5.2), (12.74, 4.4), (12.79, 5.6),
    (12.84, 4.8), (12.89, 5.0), (12.95, 6.2), (13.00, 5.3), (13.05, 6.6), (13.10, 5.9), (13.15, 6.8),
    (13.20, 6.0), (13.25, 7.1), (13.30, 6.4), (13.36, 5.6), (13.41, 6.3), (13.46, 5.5), (13.51, 6.0),
    (13.56, 5.4), (13.61, 6.5), (13.66, 5.8), (13.71, 6.6), (13.76, 6.0), (13.82, 6.8), (13.87, 6.1),
    (13.92, 6.4), (13.97, 7.0), (14.02, 6.4), (14.07, 7.2), (14.13, 6.8), (14.18, 7.6), (14.23, 7.4),
    (14.28, 8.0), (14.33, 8.3), (14.38, 9.2), (14.43, 10.1), (14.48, 12.0), (14.54, 16.1), (14.58, 22.0),
    (14.62, 26.5), (14.66, 28.5), (14.70, 30.0), (14.74, 31.2), (14.77, 29.0), (14.80, 25.0), (14.84, 26.5),
    (14.89, 24.0), (14.93, 21.0), (14.97, 19.0), (15.01, 18.5), (15.05, 16.7), (15.10, 13.0), (15.15, 10.7),
    (15.20, 9.0), (15.26, 8.0), (15.31, 6.0), (15.36, 4.7), (15.41, 6.5), (15.46, 7.1), (15.51, 9.0),
    (15.57, 10.7), (15.62, 12.0), (15.67, 13.1), (15.72, 12.0), (15.77, 15.5), (15.82, 17.3), (15.86, 20.5),
    (15.89, 19.0), (15.93, 17.5), (15.97, 14.0), (16.01, 16.5), (16.05, 13.0), (16.09, 15.5), (16.12, 12.5),
    (16.16, 16.0), (16.20, 12.0), (16.25, 14.3), (16.29, 11.0), (16.34, 12.5), (16.39, 9.5), (16.44, 8.0),
    (16.49, 8.8), (16.54, 7.6), (16.59, 9.5), (16.65, 8.2), (16.70, 8.8), (16.75, 9.2), (16.80, 8.6),
    (16.85, 10.0), (16.90, 9.6), (16.95, 10.7), (17.00, 10.2), (17.05, 11.5), (17.11, 12.2), (17.16, 13.5),
    (17.21, 15.0), (17.25, 17.5), (17.29, 22.0), (17.33, 26.5), (17.37, 28.5), (17.40, 26.0), (17.44, 21.0),
    (17.48, 19.0), (17.52, 17.5), (17.57, 16.0), (17.62, 15.0), (17.67, 14.0), (17.73, 13.1), (17.78, 12.0),
    (17.83, 11.0), (17.88, 10.2), (17.93, 9.5), (17.98, 8.5), (18.04, 7.6), (18.09, 7.0), (18.14, 6.3),
    (18.19, 5.5), (18.24, 4.8), (18.29, 4.2), (18.34, 3.8), (18.39, 3.2), (18.45, 3.5), (18.50, 2.6),
    (18.55, 3.0), (18.60, 2.4), (18.66, 3.4), (18.71, 3.0), (18.76, 3.8), (18.81, 3.4), (18.86, 4.2),
    (18.91, 3.9), (18.96, 4.6), (19.01, 4.3), (19.07, 5.3), (19.12, 5.0), (19.17, 6.0), (19.22, 6.2),
    (19.27, 7.0), (19.32, 7.6), (19.37, 8.4), (19.42, 10.5), (19.46, 12.0), (19.50, 11.0), (19.54, 13.0),
    (19.58, 11.5), (19.62, 12.5), (19.66, 11.0), (19.70, 12.2), (19.74, 10.8), (19.78, 11.8), (19.82, 10.5),
    (19.86, 11.3), (19.90, 9.5), (19.94, 10.8), (19.99, 9.2), (20.03, 11.0), (20.06, 12.0), (20.09, 10.5),
    (20.13, 9.0), (20.17, 8.6), (20.21, 7.6), (20.26, 8.4), (20.31, 7.0), (20.36, 7.6), (20.41, 8.5),
    (20.46, 9.5), (20.50, 11.0), (20.55, 13.5), (20.59, 17.0), (20.62, 22.0), (20.65, 27.5), (20.68, 29.0),
    (20.71, 24.0), (20.74, 17.0), (20.78, 13.0), (20.82, 11.0), (20.86, 9.5), (20.91, 9.8), (20.96, 8.6),
    (21.02, 9.0), (21.07, 8.0), (21.12, 7.8), (21.18, 7.0), (21.23, 6.6), (21.28, 6.2), (21.33, 6.5),
    (21.38, 7.2), (21.43, 8.0), (21.48, 8.8), (21.53, 9.0), (21.58, 8.5), (21.63, 9.2), (21.68, 8.6),
    (21.74, 8.8), (21.79, 8.2), (21.84, 8.5), (21.89, 7.8), (21.94, 8.0), (22.00, 7.2), (22.05, 6.8),
    (22.10, 6.0), (22.15, 5.6), (22.20, 4.8), (22.25, 4.2), (22.30, 3.8), (22.36, 3.4), (22.41, 4.0),
    (22.46, 4.6), (22.51, 4.2), (22.56, 5.3), (22.61, 5.0), (22.66, 5.8), (22.72, 6.5), (22.77, 6.0),
    (22.82, 7.2), (22.87, 7.8), (22.92, 7.2), (22.97, 8.3), (23.02, 9.5), (23.07, 8.8), (23.13, 10.5),
    (23.18, 11.3), (23.23, 10.2), (23.28, 12.5), (23.33, 11.5), (23.38, 13.7), (23.42, 12.5), (23.46, 15.0),
    (23.50, 14.0), (23.54, 16.7), (23.58, 19.0), (23.62, 23.0), (23.65, 22.0), (23.69, 18.0), (23.73, 15.5),
    (23.78, 14.0), (23.82, 12.5), (23.86, 12.8), (23.90, 11.9), (23.95, 10.8), (24.00, 10.2), (24.06, 9.5),
    (24.11, 8.4), (24.16, 7.8), (24.21, 7.1), (24.26, 8.5), (24.31, 11.0), (24.35, 16.7), (24.40, 21.0),
    (24.45, 25.8), (24.50, 30.0), (24.54, 36.0), (24.59, 36.0), (24.62, 22.8), (24.67, 17.0), (24.72, 13.7),
    (24.78, 11.0), (24.83, 9.5), (24.89, 8.3), (24.94, 6.5), (24.98, 5.5), (25.03, 4.1), (25.08, 4.6),
    (25.13, 3.6), (25.19, 4.2), (25.24, 3.5), (25.29, 3.0), (25.34, 3.8), (25.39, 3.2), (25.44, 2.9),
    (25.49, 3.8), (25.54, 3.4), (25.60, 4.2), (25.65, 4.1), (25.70, 3.8), (25.75, 4.6), (25.80, 4.2),
    (25.85, 4.7), (25.91, 5.2), (25.96, 5.0), (26.01, 5.6), (26.06, 5.9), (26.11, 6.8), (26.16, 8.0),
    (26.21, 9.5), (26.27, 10.7), (26.31, 13.0), (26.35, 11.0), (26.38, 15.0), (26.41, 16.7), (26.45, 12.5),
    (26.49, 14.0), (26.53, 11.5), (26.57, 13.7), (26.61, 12.0), (26.65, 15.0), (26.68, 16.7), (26.72, 11.0),
    (26.76, 9.5), (26.80, 8.0), (26.84, 9.0), (26.88, 7.7), (26.93, 8.6), (26.98, 8.0), (27.03, 9.2),
    (27.08, 8.8), (27.14, 9.4), (27.19, 9.5), (27.24, 10.2), (27.29, 10.0), (27.35, 10.8), (27.40, 10.7),
    (27.45, 11.5), (27.50, 11.8), (27.55, 12.5), (27.60, 12.5), (27.66, 14.0), (27.71, 14.8), (27.76, 15.8),
    (27.81, 16.7), (27.86, 19.0), (27.90, 24.0), (27.93, 29.0), (27.97, 32.4), (28.00, 28.0), (28.03, 23.0),
    (28.06, 21.0), (28.09, 18.0), (28.12, 16.7), (28.17, 15.0), (28.22, 13.5), (28.27, 12.5), (28.32, 11.9),
    (28.38, 10.5), (28.43, 9.5), (28.48, 8.8), (28.53, 8.3), (28.58, 7.5), (28.63, 7.0), (28.68, 6.4),
    (28.73, 5.9), (28.78, 5.4), (28.83, 5.0), (28.89, 5.3), (28.94, 4.7), (28.99, 4.3), (29.04, 4.8),
    (29.10, 4.2), (29.15, 4.1), (29.20, 4.6), (29.25, 4.0), (29.30, 4.8), (29.36, 4.4), (29.41, 5.0),
    (29.46, 4.7), (29.51, 5.2), (29.56, 4.9), (29.61, 5.5), (29.66, 5.2), (29.71, 5.8), (29.76, 5.9),
    (29.81, 6.4), (29.86, 6.8), (29.92, 7.5), (29.97, 8.2), (30.03, 8.9), (30.07, 10.5), (30.10, 9.5),
    (30.13, 11.5), (30.17, 13.1), (30.21, 11.0), (30.25, 12.2), (30.29, 10.5), (30.33, 12.5), (30.38, 11.3),
    (30.43, 9.8), (30.48, 9.5), (30.53, 11.5), (30.57, 10.7), (30.61, 13.5), (30.65, 15.5), (30.69, 17.3),
    (30.72, 14.0), (30.76, 15.0), (30.79, 13.7), (30.84, 11.0), (30.90, 9.5), (30.95, 9.0), (31.00, 8.6),
    (31.05, 8.0), (31.10, 8.3), (31.15, 8.8), (31.20, 9.0), (31.25, 9.2), (31.31, 9.5), (31.36, 10.2),
    (31.41, 11.0), (31.46, 12.0), (31.51, 13.1), (31.56, 15.5), (31.60, 20.0), (31.63, 28.0), (31.66, 36.0),
    (31.74, 36.0), (31.78, 20.0), (31.82, 10.7), (31.87, 6.0), (31.93, 3.5), (31.98, 2.8), (32.03, 2.3),
    (32.08, 3.2), (32.13, 2.6), (32.18, 3.4), (32.23, 2.9), (32.28, 3.6), (32.33, 3.2), (32.38, 3.8),
    (32.44, 3.5), (32.49, 4.2), (32.54, 4.0), (32.59, 4.6), (32.64, 4.4), (32.70, 5.0), (32.75, 5.3),
    (32.80, 5.6), (32.85, 5.9), (32.90, 6.2), (32.95, 6.0), (33.01, 7.0), (33.06, 6.5), (33.11, 7.5),
    (33.16, 7.0), (33.21, 8.2), (33.26, 7.6), (33.31, 8.5), (33.36, 8.9), (33.40, 11.0), (33.44, 9.5),
    (33.48, 12.5), (33.53, 15.5), (33.56, 13.0), (33.60, 10.5), (33.64, 12.8), (33.67, 11.9), (33.71, 13.5),
    (33.75, 11.5), (33.80, 14.0), (33.84, 12.0), (33.88, 13.1), (33.92, 15.0), (33.96, 13.0), (34.00, 15.5),
    (34.03, 16.0), (34.07, 14.0), (34.11, 15.8), (34.15, 13.5), (34.19, 14.3), (34.24, 15.5), (34.29, 16.0),
    (34.34, 15.0), (34.39, 14.9), (34.44, 13.5), (34.49, 12.8), (34.56, 11.9), (34.61, 10.5), (34.66, 9.8),
    (34.71, 9.0), (34.76, 8.3), (34.82, 7.5), (34.87, 6.8), (34.92, 6.4), (34.97, 5.9), (35.02, 6.5),
    (35.07, 8.0), (35.11, 9.5), (35.14, 15.0), (35.18, 23.0), (35.21, 21.0), (35.24, 18.0), (35.26, 16.7),
    (35.30, 14.0), (35.34, 12.5), (35.38, 10.7), (35.43, 9.0), (35.48, 8.0), (35.52, 7.1), (35.57, 6.2),
    (35.62, 5.8), (35.68, 5.3), (35.73, 5.6), (35.78, 4.9), (35.83, 5.2), (35.88, 4.6), (35.94, 5.0),
    (35.99, 4.5), (36.04, 4.7), (36.09, 5.1), (36.14, 4.6), (36.19, 5.0), (36.25, 4.4), (36.30, 4.9),
    (36.35, 4.4), (36.40, 4.9), (36.45, 4.3), (36.50, 4.8), (36.56, 4.5), (36.61, 5.2), (36.66, 5.0),
    (36.71, 5.8), (36.76, 6.5), (36.81, 7.2), (36.86, 7.7), (36.91, 9.5), (36.96, 11.0), (37.01, 12.5),
    (37.07, 14.3), (37.12, 12.5), (37.17, 13.1), (37.22, 14.0), (37.27, 13.0), (37.32, 15.5), (37.37, 14.0),
    (37.42, 12.5), (37.48, 13.7),
]

# (f) B_m=1, OFCD off
bm1_off = [
    (12.40, 1.8), (12.45, 2.6), (12.50, 2.0), (12.55, 2.8), (12.60, 2.2), (12.65, 2.9), (12.70, 2.3),
    (12.75, 2.6), (12.80, 2.1), (12.85, 2.9), (12.90, 2.4), (12.95, 2.7), (13.00, 2.2), (13.05, 3.0),
    (13.10, 2.5), (13.15, 2.9), (13.20, 2.6), (13.25, 3.2), (13.30, 2.7), (13.35, 3.3), (13.40, 2.9),
    (13.45, 3.5), (13.51, 3.2), (13.56, 3.8), (13.61, 3.7), (13.66, 4.3), (13.72, 4.6), (13.77, 5.0),
    (13.82, 5.3), (13.87, 6.0), (13.92, 6.5), (13.97, 7.2), (14.03, 7.8), (14.08, 7.2), (14.13, 7.8),
    (14.18, 7.0), (14.23, 7.4), (14.28, 7.9), (14.33, 7.5), (14.40, 8.3), (14.44, 10.0), (14.48, 11.9),
    (14.52, 18.0), (14.56, 24.9), (14.60, 23.0), (14.64, 20.4), (14.67, 23.1), (14.70, 22.5), (14.74, 19.0),
    (14.79, 16.7), (14.84, 12.5), (14.89, 9.5), (14.94, 7.5), (15.00, 6.2), (15.05, 5.3), (15.10, 4.5),
    (15.16, 4.0), (15.21, 3.4), (15.26, 3.5), (15.31, 3.0), (15.36, 2.6), (15.41, 3.0), (15.47, 2.4),
    (15.52, 2.8), (15.57, 2.6), (15.62, 3.2), (15.67, 2.8), (15.72, 3.4), (15.78, 3.0), (15.83, 3.6),
    (15.88, 3.2), (15.93, 3.6), (15.98, 3.3), (16.04, 4.2), (16.09, 3.5), (16.14, 4.0), (16.19, 3.6),
    (16.24, 4.2), (16.29, 4.4), (16.34, 3.9), (16.39, 4.5), (16.45, 4.1), (16.50, 4.6), (16.55, 4.3),
    (16.60, 4.9), (16.65, 4.5), (16.70, 4.7), (16.75, 5.2), (16.80, 5.5), (16.86, 5.3), (16.91, 5.9),
    (16.96, 6.0), (17.01, 6.4), (17.06, 6.2), (17.11, 6.5), (17.16, 7.1), (17.21, 7.3), (17.27, 7.8),
    (17.32, 8.0), (17.37, 8.3), (17.42, 8.6), (17.47, 8.7), (17.52, 8.9), (17.57, 9.6), (17.62, 10.0),
    (17.68, 10.4), (17.73, 10.7), (17.78, 11.0), (17.83, 11.3), (17.88, 11.8), (17.93, 12.2), (17.98, 12.8),
    (18.04, 13.4), (18.09, 13.8), (18.14, 14.3), (18.19, 14.8), (18.24, 15.5), (18.30, 16.2), (18.35, 16.7),
    (18.40, 19.0), (18.44, 22.8), (18.47, 28.0), (18.50, 34.5), (18.53, 34.5), (18.56, 28.0), (18.59, 25.8),
    (18.63, 22.0), (18.67, 19.0), (18.72, 17.3), (18.77, 14.0), (18.82, 11.5), (18.86, 10.1), (18.91, 7.0),
    (18.96, 4.7), (19.01, 3.5), (19.06, 3.0), (19.11, 2.8), (19.17, 2.6), (19.22, 3.2), (19.27, 2.8),
    (19.32, 3.4), (19.37, 3.0), (19.43, 3.5), (19.48, 2.9), (19.53, 3.6), (19.58, 3.3), (19.63, 4.0),
    (19.68, 3.7), (19.74, 4.3), (19.79, 4.1), (19.84, 3.8), (19.89, 4.4), (19.94, 4.0), (19.99, 4.5),
    (20.04, 4.1), (20.10, 4.6), (20.15, 4.2), (20.20, 4.1), (20.25, 4.7), (20.30, 4.5), (20.35, 5.0),
    (20.40, 4.8), (20.46, 5.2), (20.51, 5.0), (20.56, 5.6), (20.61, 5.3), (20.66, 5.8), (20.71, 6.0),
    (20.77, 6.3), (20.82, 6.6), (20.87, 6.5), (20.92, 7.0), (20.97, 6.9), (21.02, 7.1), (21.07, 7.6),
    (21.12, 7.5), (21.18, 8.0), (21.23, 8.2), (21.28, 8.4), (21.33, 8.5), (21.38, 8.9), (21.43, 8.9),
    (21.49, 9.4), (21.54, 9.7), (21.59, 10.0), (21.64, 10.4), (21.69, 10.8), (21.74, 11.0), (21.79, 11.1),
    (21.84, 11.3), (21.90, 11.8), (21.95, 12.0), (22.00, 12.3), (22.05, 12.5), (22.09, 12.5), (22.14, 11.8),
    (22.20, 11.4), (22.26, 10.7), (22.31, 10.0), (22.36, 9.0), (22.41, 8.6), (22.46, 8.3), (22.51, 7.5),
    (22.56, 6.5), (22.61, 8.0), (22.64, 10.7), (22.68, 17.0), (22.72, 24.0), (22.77, 27.0), (22.80, 25.0),
    (22.84, 26.0), (22.87, 24.9), (22.91, 22.0), (22.94, 23.0), (22.98, 21.0), (23.02, 16.0), (23.05, 13.0),
    (23.08, 11.9), (23.13, 9.5), (23.18, 7.8), (23.23, 6.8), (23.28, 5.9), (23.33, 5.0), (23.39, 4.6),
    (23.44, 4.3), (23.49, 4.1), (23.54, 3.5), (23.59, 3.9), (23.64, 3.3), (23.70, 3.7), (23.75, 3.0),
    (23.80, 3.2), (23.85, 2.7), (23.90, 3.4), (23.95, 2.8), (24.01, 3.3), (24.06, 2.6), (24.11, 2.9),
    (24.16, 2.4), (24.21, 3.2), (24.26, 2.7), (24.32, 3.5), (24.37, 3.0), (24.42, 3.2), (24.47, 3.8),
    (24.52, 4.2), (24.57, 4.8), (24.62, 5.2), (24.68, 4.9), (24.73, 5.9), (24.78, 5.2), (24.83, 6.2),
    (24.88, 5.4), (24.93, 6.4), (24.99, 5.6), (25.04, 6.3), (25.09, 5.5), (25.14, 5.9), (25.19, 6.6),
    (25.24, 5.7), (25.30, 6.5), (25.35, 5.9), (25.40, 6.8), (25.45, 6.0), (25.50, 6.7), (25.55, 6.5),
    (25.61, 6.2), (25.66, 7.0), (25.71, 6.4), (25.76, 7.1), (25.81, 6.6), (25.86, 7.3), (25.92, 6.9),
    (25.96, 7.1), (26.02, 7.6), (26.07, 7.2), (26.12, 7.9), (26.17, 7.5), (26.23, 8.1), (26.28, 7.8),
    (26.33, 8.4), (26.37, 8.3), (26.43, 8.8), (26.48, 8.6), (26.53, 9.2), (26.58, 9.0), (26.64, 9.6),
    (26.69, 9.4), (26.74, 9.9), (26.78, 9.5), (26.84, 10.2), (26.89, 10.4), (26.94, 10.8), (26.99, 11.0),
    (27.05, 11.5), (27.09, 11.3), (27.14, 12.0), (27.20, 12.6), (27.25, 13.2), (27.30, 13.7), (27.35, 14.2),
    (27.40, 14.5), (27.44, 14.9), (27.48, 14.0), (27.53, 12.5), (27.58, 11.2), (27.61, 10.7), (27.66, 9.5),
    (27.71, 8.5), (27.76, 7.6), (27.81, 7.1), (27.86, 6.5), (27.91, 6.2), (27.97, 6.0), (28.02, 5.6),
    (28.07, 6.1), (28.12, 5.9), (28.17, 6.5), (28.23, 6.8), (28.28, 7.3), (28.33, 7.7), (28.38, 8.0),
    (28.43, 8.3), (28.48, 8.4), (28.53, 8.8), (28.58, 9.0), (28.63, 9.5), (28.68, 10.0), (28.73, 10.4),
    (28.78, 10.8), (28.83, 11.1), (28.89, 11.5), (28.94, 11.9), (28.99, 12.5), (29.04, 11.5), (29.09, 10.7),
    (29.14, 12.5), (29.18, 15.0), (29.21, 16.7), (29.24, 24.0), (29.27, 29.7), (29.30, 28.0), (29.33, 20.0),
    (29.36, 16.7), (29.40, 15.5), (29.45, 13.5), (29.50, 11.9), (29.54, 9.0), (29.58, 7.0), (29.62, 6.0),
    (29.66, 5.3), (29.71, 4.6), (29.76, 5.0), (29.81, 4.2), (29.87, 4.8), (29.92, 3.6), (29.97, 4.1),
    (30.02, 4.8), (30.07, 3.8), (30.12, 4.6), (30.18, 3.5), (30.23, 4.9), (30.28, 4.7), (30.33, 4.0),
    (30.38, 5.2), (30.43, 4.4), (30.49, 5.5), (30.54, 4.8), (30.59, 5.3), (30.64, 4.7), (30.69, 5.8),
    (30.74, 5.2), (30.80, 6.0), (30.85, 5.5), (30.90, 5.9), (30.95, 5.6), (31.00, 6.4), (31.06, 6.0),
    (31.11, 6.8), (31.16, 6.5), (31.21, 7.1), (31.26, 6.8), (31.31, 7.5), (31.37, 7.3), (31.42, 7.9),
    (31.47, 7.5), (31.52, 8.2), (31.57, 7.9), (31.62, 8.3), (31.68, 8.6), (31.73, 8.5), (31.78, 9.0),
    (31.83, 8.8), (31.88, 9.3), (31.93, 9.2), (31.99, 9.8), (32.03, 9.5), (32.09, 10.0), (32.14, 9.6),
    (32.19, 10.3), (32.24, 9.8), (32.29, 10.5), (32.34, 10.1), (32.40, 9.6), (32.45, 9.0), (32.50, 8.6),
    (32.54, 8.3), (32.60, 7.8), (32.65, 7.3), (32.70, 7.0), (32.75, 6.5), (32.80, 6.9), (32.86, 6.4),
    (32.91, 6.8), (32.96, 6.3), (33.01, 6.7), (33.06, 6.5), (33.11, 7.0), (33.17, 7.2), (33.22, 7.6),
    (33.27, 7.8), (33.32, 8.1), (33.37, 8.3), (33.42, 9.0), (33.47, 9.8), (33.52, 10.8), (33.57, 11.8),
    (33.62, 12.5), (33.68, 13.1), (33.73, 12.8), (33.78, 13.5), (33.82, 13.1), (33.87, 10.5), (33.92, 8.9),
    (33.95, 8.9), (33.99, 11.0), (34.03, 14.0), (34.06, 16.1), (34.10, 18.5), (34.14, 20.5), (34.17, 22.2),
    (34.21, 24.5), (34.25, 25.8), (34.28, 23.5), (34.31, 20.0), (34.35, 17.0), (34.38, 16.1), (34.42, 15.8),
    (34.46, 16.4), (34.50, 15.5), (34.55, 16.3), (34.60, 16.1), (34.64, 12.0), (34.68, 9.0), (34.71, 8.3),
    (34.76, 7.2), (34.81, 6.5), (34.86, 5.6), (34.91, 6.0), (34.96, 5.0), (35.01, 5.3), (35.06, 6.2),
    (35.11, 5.0), (35.16, 6.4), (35.22, 5.2), (35.27, 6.3), (35.32, 5.9), (35.37, 5.1), (35.42, 6.6),
    (35.48, 5.5), (35.53, 6.8), (35.58, 5.8), (35.63, 6.5), (35.68, 6.0), (35.73, 7.2), (35.78, 6.3),
    (35.84, 7.6), (35.89, 6.8), (35.93, 7.7), (35.99, 7.0), (36.04, 7.8), (36.09, 6.9), (36.14, 7.5),
    (36.19, 7.0), (36.25, 7.4), (36.30, 8.0), (36.35, 7.3), (36.40, 8.2), (36.45, 7.5), (36.51, 8.3),
    (36.56, 8.3), (36.61, 7.6), (36.66, 8.5), (36.71, 7.8), (36.76, 8.6), (36.82, 8.0), (36.87, 8.7),
    (36.92, 8.2), (36.97, 8.3), (37.02, 9.0), (37.07, 8.4), (37.10, 8.6),
]

col_titles = ['OFCD ON', 'OFCD OFF']
row_labels = [r'V$_{\mathrm{pol}}$ (V)', r'B$_{\mathrm{m\!=\!0}}$ (G)', r'B$_{\mathrm{m\!=\!1}}$ (G)']
panel_tags = [['(a)', '(b)'], ['(c)', '(d)'], ['(e)', '(f)']]
series = [[vpol_on, vpol_off], [bm0_on, bm0_off], [bm1_on, bm1_off]]

ylims = [(-22, 20.8), (-11, 215), (-1.2, 33.6)]
yticks = [[-20, -10, 0, 10, 20], [0, 50, 100, 150, 200], [0, 10, 20, 30]]
yminor = [1, 10, 1]
xlims = [(12.5, 37.5), (12.4, 37.1)]
xticks = [15, 20, 25, 30, 35]

fig = plt.figure(figsize=(9.07, 6.72), dpi=100, facecolor='white')

col_left = [102 / 907, 507 / 907]
col_width = [405 / 907, 400 / 907]
row_bottom = [(672 - 223.5) / 672, (672 - 416.5) / 672, (672 - 609.5) / 672]
row_height = 193 / 672

for r in range(3):
    for c in range(2):
        ax = fig.add_axes([col_left[c], row_bottom[r], col_width[c], row_height])
        t, v = zip(*series[r][c])
        ax.plot(t, v, color='black', lw=1.4)
        if r == 0:
            ax.axhline(0, color='black', lw=1.3)
        ax.set_xlim(*xlims[c])
        ax.set_ylim(*ylims[r])
        ax.set_xticks(xticks)
        ax.xaxis.set_minor_locator(MultipleLocator(1))
        ax.set_yticks(yticks[r])
        ax.yaxis.set_minor_locator(MultipleLocator(yminor[r]))
        ax.tick_params(which='both', direction='in', top=True, right=True, width=1.2)
        ax.tick_params(which='major', length=7, labelsize=16)
        ax.tick_params(which='minor', length=3.5)
        for sp in ax.spines.values():
            sp.set_linewidth(1.6)
        if c == 1:
            ax.tick_params(labelleft=False)
        if r < 2:
            ax.tick_params(labelbottom=False)
        ax.text(0.99, 0.895, panel_tags[r][c], transform=ax.transAxes,
                ha='right', va='center', fontsize=16)

    fig.text(13 / 907, (row_bottom[r] + row_height / 2), row_labels[r],
             rotation=90, ha='left', va='center', fontsize=18)

fig.text(316 / 907, 1 - 15 / 672, col_titles[0], ha='center', va='center', fontsize=17.5)
fig.text(723 / 907, 1 - 15 / 672, col_titles[1], ha='center', va='center', fontsize=17.5)
fig.text(318 / 907, 1 - 653 / 672, 't (ms)', ha='center', va='center', fontsize=17.5)
fig.text(724 / 907, 1 - 653 / 672, 't (ms)', ha='center', va='center', fontsize=17.5)

plt.savefig('out.png', dpi=100, facecolor='white')
plt.close()
